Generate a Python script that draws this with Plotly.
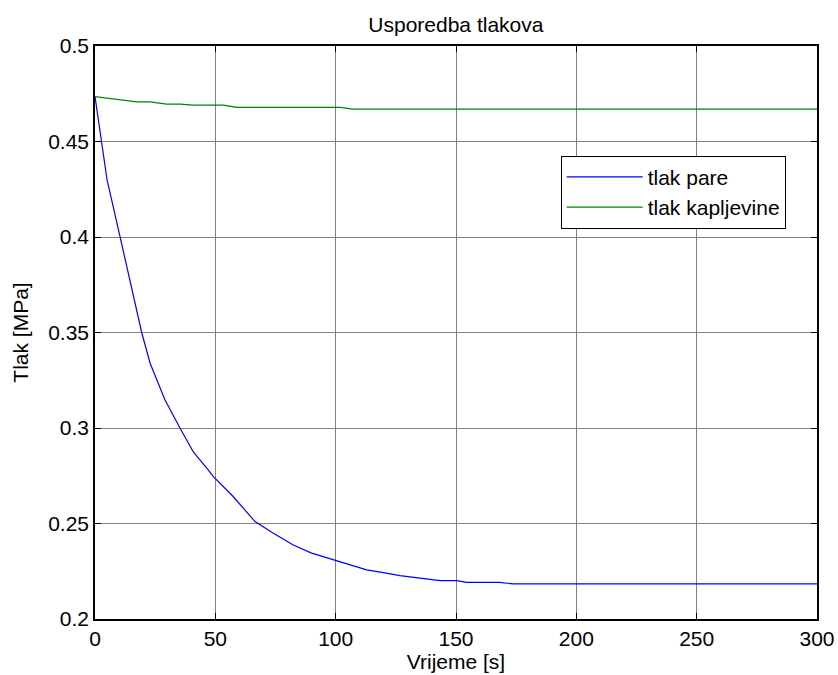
import plotly.graph_objects as go

# Data
t_pare = [0, 5, 10.4, 19.4, 22.9, 29.1, 35.3, 40.8, 47.1, 49.2, 57.5, 66.5, 74.1, 82.4,
          90, 99, 106, 112.9, 119.8, 126.7, 135, 143.5, 150.3, 154.4, 168, 173.8, 300]
p_pare = [0.4735, 0.4300, 0.4002, 0.3500, 0.3339, 0.3147, 0.3000, 0.2876, 0.2780, 0.2745,
          0.2640, 0.2510, 0.2449, 0.2387, 0.2345, 0.2309, 0.2283, 0.2257, 0.2243, 0.2227,
          0.2214, 0.2201, 0.2201, 0.2192, 0.2192, 0.2184, 0.2184]

t_kap = [0, 17.3, 22.8, 29.8, 35.3, 40.8, 53.3, 58.9, 101.8, 107.3, 300]
p_kap = [0.4735, 0.4707, 0.4707, 0.4696, 0.4696, 0.4690, 0.4690, 0.4679, 0.4679, 0.4670, 0.4670]

x_tick_vals = [0, 50, 100, 150, 200, 250, 300]
x_tick_text = ["0", "50", "100", "150", "200", "250", "300"]
y_tick_vals = [0.2, 0.25, 0.3, 0.35, 0.4, 0.45, 0.5]
y_tick_text = ["0.2", "0.25", "0.3", "0.35", "0.4", "0.45", "0.5"]

FONT = "Liberation Sans, Arial, sans-serif"

fig = go.Figure()
fig.add_trace(go.Scatter(x=t_pare, y=p_pare, mode="lines", name="tlak pare",
                         legendgroup="a",
                         line=dict(color="#0000ff", width=1.2)))
fig.add_trace(go.Scatter(x=t_kap, y=p_kap, mode="lines", name="tlak kapljevine",
                         legendgroup="b",
                         line=dict(color="#008000", width=1.2)))

axis_common = dict(
    showline=True, linecolor="black", linewidth=1.5, mirror="ticks",
    ticks="inside", ticklen=6, tickcolor="black", tickwidth=1,
    showgrid=True, gridcolor="rgb(130,130,130)", gridwidth=1,
    zeroline=False, automargin=False,
    tickfont=dict(family=FONT, size=21, color="black"),
)

fig.update_xaxes(range=[0, 300], tickvals=x_tick_vals, ticktext=x_tick_text,
                 title=dict(text="Vrijeme [s]", font=dict(family=FONT, size=21, color="black"),
                            standoff=4),
                 **axis_common)
fig.update_yaxes(range=[0.2, 0.5], tickvals=y_tick_vals, ticktext=y_tick_text,
                 title=dict(text="Tlak [MPa]", font=dict(family=FONT, size=21, color="black"),
                            standoff=14),
                 **axis_common)

fig.update_layout(
    width=838, height=675,
    margin=dict(l=95, r=21, t=46, b=56, pad=0),
    paper_bgcolor="white", plot_bgcolor="white",
    font=dict(family=FONT, size=21, color="black"),
    title=dict(text="Usporedba tlakova", x=0.544, xanchor="center",
               y=0.964, yanchor="middle", yref="container",
               font=dict(family=FONT, size=21, color="black")),
    legend=dict(x=0.645, y=0.8086, xanchor="left", yanchor="top",
                bordercolor="black", borderwidth=1, bgcolor="white",
                font=dict(family=FONT, size=21, color="black"),
                itemwidth=76, tracegroupgap=0),
    showlegend=True,
)

fig.write_html("out.html", config={"displayModeBar": False},
               post_script="document.body.style.margin='0px';document.body.style.overflow='hidden';")
